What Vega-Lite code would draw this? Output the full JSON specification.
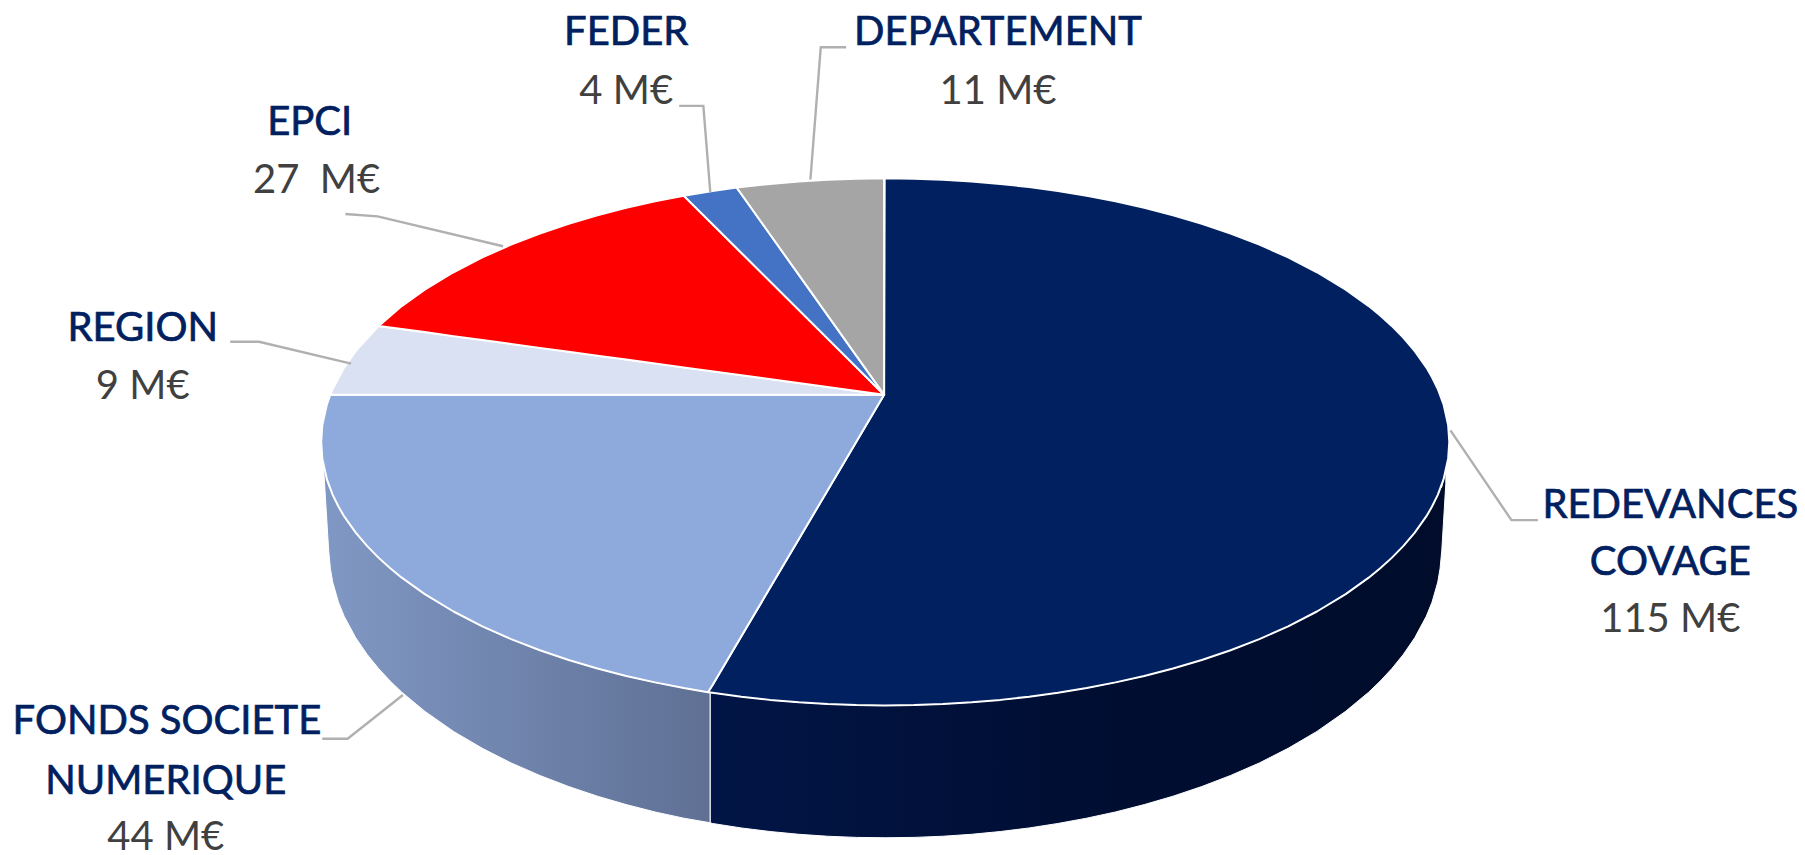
{"$schema":"https://vega.github.io/schema/vega-lite/v6.json","width":1805,"height":855,"padding":0,"autosize":{"type":"none"},"background":"white","config":{"view":{"stroke":null}},
"datasets":{
"wallLight":[{"x":281,"y":402,"y2":405},{"x":285.5,"y":422,"y2":478},{"x":287,"y":424.6,"y2":494},{"x":289,"y":430,"y2":505.8},{"x":294,"y":440.2,"y2":523.3},{"x":299,"y":448.8,"y2":535.6},{"x":309,"y":462.9,"y2":554.2},{"x":319,"y":474.6,"y2":568.8},{"x":329,"y":484.8,"y2":581.1},{"x":339,"y":493.8,"y2":591.9},{"x":349,"y":502,"y2":601.5},{"x":369,"y":516.3,"y2":618.1},{"x":394,"y":531.4,"y2":635.6},{"x":419,"y":544.3,"y2":650.3},{"x":444,"y":555.4,"y2":663},{"x":469,"y":565.1,"y2":673.9},{"x":494,"y":573.5,"y2":683.5},{"x":519,"y":580.9,"y2":691.9},{"x":544,"y":587.4,"y2":699.2},{"x":569,"y":593,"y2":705.6},{"x":594,"y":597.9,"y2":711},{"x":617,"y":601.7,"y2":715}],
"wallNavy":[{"x":617,"y":601.7,"y2":715},{"x":619,"y":602,"y2":715.6},{"x":644,"y":605.4,"y2":719.5},{"x":669,"y":608.2,"y2":722.6},{"x":694,"y":610.3,"y2":725},{"x":719,"y":611.8,"y2":726.7},{"x":744,"y":612.7,"y2":727.7},{"x":769,"y":613,"y2":728},{"x":794,"y":612.7,"y2":727.7},{"x":819,"y":611.8,"y2":726.7},{"x":844,"y":610.3,"y2":725},{"x":869,"y":608.2,"y2":722.6},{"x":894,"y":605.4,"y2":719.5},{"x":919,"y":602,"y2":715.6},{"x":944,"y":597.9,"y2":711},{"x":969,"y":593,"y2":705.6},{"x":994,"y":587.4,"y2":699.2},{"x":1019,"y":580.9,"y2":691.9},{"x":1044,"y":573.5,"y2":683.5},{"x":1069,"y":565.1,"y2":673.9},{"x":1094,"y":555.4,"y2":663},{"x":1119,"y":544.3,"y2":650.3},{"x":1144,"y":531.4,"y2":635.6},{"x":1169,"y":516.3,"y2":618.1},{"x":1189,"y":502,"y2":601.5},{"x":1199,"y":493.8,"y2":591.9},{"x":1209,"y":484.8,"y2":581.1},{"x":1219,"y":474.6,"y2":568.8},{"x":1229,"y":462.9,"y2":554.2},{"x":1239,"y":448.8,"y2":535.6},{"x":1244,"y":440.2,"y2":523.3},{"x":1249,"y":430,"y2":505.8},{"x":1251,"y":425,"y2":494},{"x":1252.5,"y":423,"y2":478},{"x":1256,"y":408,"y2":420}],
"faces":[
{"s":"REDEVANCES COVAGE","x":615,"y":601.5,"y2":601.5},{"s":"REDEVANCES COVAGE","x":619,"y":595.3,"y2":602},{"s":"REDEVANCES COVAGE","x":644,"y":552.9,"y2":605.4},{"s":"REDEVANCES COVAGE","x":669,"y":510.6,"y2":608.2},{"s":"REDEVANCES COVAGE","x":694,"y":468.3,"y2":610.3},{"s":"REDEVANCES COVAGE","x":719,"y":426,"y2":611.8},{"s":"REDEVANCES COVAGE","x":744,"y":383.6,"y2":612.7},{"s":"REDEVANCES COVAGE","x":768,"y":343,"y2":613},{"s":"REDEVANCES COVAGE","x":768.5,"y":155,"y2":613},{"s":"REDEVANCES COVAGE","x":794,"y":155.3,"y2":612.7},{"s":"REDEVANCES COVAGE","x":819,"y":156.2,"y2":611.8},{"s":"REDEVANCES COVAGE","x":844,"y":157.7,"y2":610.3},{"s":"REDEVANCES COVAGE","x":869,"y":159.8,"y2":608.2},{"s":"REDEVANCES COVAGE","x":894,"y":162.6,"y2":605.4},{"s":"REDEVANCES COVAGE","x":919,"y":166,"y2":602},{"s":"REDEVANCES COVAGE","x":944,"y":170.1,"y2":597.9},{"s":"REDEVANCES COVAGE","x":969,"y":175,"y2":593},{"s":"REDEVANCES COVAGE","x":994,"y":180.6,"y2":587.4},{"s":"REDEVANCES COVAGE","x":1019,"y":187.1,"y2":580.9},{"s":"REDEVANCES COVAGE","x":1044,"y":194.5,"y2":573.5},{"s":"REDEVANCES COVAGE","x":1069,"y":202.9,"y2":565.1},{"s":"REDEVANCES COVAGE","x":1094,"y":212.6,"y2":555.4},{"s":"REDEVANCES COVAGE","x":1119,"y":223.7,"y2":544.3},{"s":"REDEVANCES COVAGE","x":1144,"y":236.6,"y2":531.4},{"s":"REDEVANCES COVAGE","x":1169,"y":251.7,"y2":516.3},{"s":"REDEVANCES COVAGE","x":1189,"y":266,"y2":502},{"s":"REDEVANCES COVAGE","x":1199,"y":274.2,"y2":493.8},{"s":"REDEVANCES COVAGE","x":1209,"y":283.2,"y2":484.8},{"s":"REDEVANCES COVAGE","x":1219,"y":293.4,"y2":474.6},{"s":"REDEVANCES COVAGE","x":1229,"y":305.1,"y2":462.9},{"s":"REDEVANCES COVAGE","x":1239,"y":319.2,"y2":448.8},{"s":"REDEVANCES COVAGE","x":1244,"y":327.8,"y2":440.2},{"s":"REDEVANCES COVAGE","x":1249,"y":338,"y2":430},{"s":"REDEVANCES COVAGE","x":1254,"y":351.4,"y2":416.6},{"s":"REDEVANCES COVAGE","x":1258,"y":369.4,"y2":398.6},{"s":"REDEVANCES COVAGE","x":1259,"y":384,"y2":384},
{"s":"FONDS SOCIETE NUMERIQUE","x":279,"y":384,"y2":384},{"s":"FONDS SOCIETE NUMERIQUE","x":280,"y":369.4,"y2":398.6},{"s":"FONDS SOCIETE NUMERIQUE","x":284,"y":351.4,"y2":416.6},{"s":"FONDS SOCIETE NUMERIQUE","x":287,"y":343,"y2":424.6},{"s":"FONDS SOCIETE NUMERIQUE","x":289,"y":343,"y2":430},{"s":"FONDS SOCIETE NUMERIQUE","x":294,"y":343,"y2":440.2},{"s":"FONDS SOCIETE NUMERIQUE","x":299,"y":343,"y2":448.8},{"s":"FONDS SOCIETE NUMERIQUE","x":309,"y":343,"y2":462.9},{"s":"FONDS SOCIETE NUMERIQUE","x":319,"y":343,"y2":474.6},{"s":"FONDS SOCIETE NUMERIQUE","x":329,"y":343,"y2":484.8},{"s":"FONDS SOCIETE NUMERIQUE","x":339,"y":343,"y2":493.8},{"s":"FONDS SOCIETE NUMERIQUE","x":349,"y":343,"y2":502},{"s":"FONDS SOCIETE NUMERIQUE","x":369,"y":343,"y2":516.3},{"s":"FONDS SOCIETE NUMERIQUE","x":394,"y":343,"y2":531.4},{"s":"FONDS SOCIETE NUMERIQUE","x":419,"y":343,"y2":544.3},{"s":"FONDS SOCIETE NUMERIQUE","x":444,"y":343,"y2":555.4},{"s":"FONDS SOCIETE NUMERIQUE","x":469,"y":343,"y2":565.1},{"s":"FONDS SOCIETE NUMERIQUE","x":494,"y":343,"y2":573.5},{"s":"FONDS SOCIETE NUMERIQUE","x":519,"y":343,"y2":580.9},{"s":"FONDS SOCIETE NUMERIQUE","x":544,"y":343,"y2":587.4},{"s":"FONDS SOCIETE NUMERIQUE","x":569,"y":343,"y2":593},{"s":"FONDS SOCIETE NUMERIQUE","x":594,"y":343,"y2":597.9},{"s":"FONDS SOCIETE NUMERIQUE","x":615,"y":343,"y2":601.5},{"s":"FONDS SOCIETE NUMERIQUE","x":619,"y":343,"y2":595.3},{"s":"FONDS SOCIETE NUMERIQUE","x":644,"y":343,"y2":552.9},{"s":"FONDS SOCIETE NUMERIQUE","x":669,"y":343,"y2":510.6},{"s":"FONDS SOCIETE NUMERIQUE","x":694,"y":343,"y2":468.3},{"s":"FONDS SOCIETE NUMERIQUE","x":719,"y":343,"y2":426},{"s":"FONDS SOCIETE NUMERIQUE","x":744,"y":343,"y2":383.6},{"s":"FONDS SOCIETE NUMERIQUE","x":768,"y":343,"y2":343},
{"s":"REGION","x":287,"y":343,"y2":343},{"s":"REGION","x":289,"y":338,"y2":343},{"s":"REGION","x":299,"y":319.2,"y2":343},{"s":"REGION","x":309,"y":305.1,"y2":343},{"s":"REGION","x":329,"y":283.2,"y2":343},{"s":"REGION","x":768,"y":343,"y2":343},
{"s":"EPCI","x":329,"y":283.2,"y2":283.2},{"s":"EPCI","x":349,"y":266,"y2":285.9},{"s":"EPCI","x":369,"y":251.7,"y2":288.6},{"s":"EPCI","x":394,"y":236.6,"y2":292.1},{"s":"EPCI","x":419,"y":223.7,"y2":295.5},{"s":"EPCI","x":444,"y":212.6,"y2":298.9},{"s":"EPCI","x":469,"y":202.9,"y2":302.3},{"s":"EPCI","x":494,"y":194.5,"y2":305.7},{"s":"EPCI","x":519,"y":187.1,"y2":309.1},{"s":"EPCI","x":544,"y":180.6,"y2":312.5},{"s":"EPCI","x":569,"y":175,"y2":315.9},{"s":"EPCI","x":594,"y":170.1,"y2":319.3},{"s":"EPCI","x":768,"y":343,"y2":343},
{"s":"FEDER","x":594,"y":170.1,"y2":170.1},{"s":"FEDER","x":619,"y":166,"y2":194.9},{"s":"FEDER","x":640,"y":163,"y2":215.7},{"s":"FEDER","x":768,"y":343,"y2":343},
{"s":"DEPARTEMENT","x":640,"y":163,"y2":163},{"s":"DEPARTEMENT","x":644,"y":162.6,"y2":168.6},{"s":"DEPARTEMENT","x":669,"y":159.8,"y2":203.8},{"s":"DEPARTEMENT","x":694,"y":157.7,"y2":238.9},{"s":"DEPARTEMENT","x":719,"y":156.2,"y2":274.1},{"s":"DEPARTEMENT","x":744,"y":155.3,"y2":309.2},{"s":"DEPARTEMENT","x":768,"y":155,"y2":343}],
"leaders":[
{"k":"REDEVANCES","i":1,"x":1260,"y":374},{"k":"REDEVANCES","i":2,"x":1313,"y":452},{"k":"REDEVANCES","i":3,"x":1336,"y":452},
{"k":"FONDS","i":1,"x":350,"y":604},{"k":"FONDS","i":2,"x":302,"y":642},{"k":"FONDS","i":3,"x":280,"y":642},
{"k":"REGION","i":1,"x":305,"y":316},{"k":"REGION","i":2,"x":225,"y":297},{"k":"REGION","i":3,"x":200,"y":297},
{"k":"EPCI","i":1,"x":437,"y":214},{"k":"EPCI","i":2,"x":328,"y":188},{"k":"EPCI","i":3,"x":300,"y":186},
{"k":"FEDER","i":1,"x":617,"y":167},{"k":"FEDER","i":2,"x":611,"y":92},{"k":"FEDER","i":3,"x":590,"y":92},
{"k":"DEPT","i":1,"x":704,"y":156},{"k":"DEPT","i":2,"x":713,"y":41},{"k":"DEPT","i":3,"x":735,"y":41}],
"names":[
{"t":"REDEVANCES","x":1451,"y":450},{"t":"COVAGE","x":1451,"y":499.5},
{"t":"FONDS SOCIETE","x":145,"y":638},{"t":"NUMERIQUE","x":144,"y":690},
{"t":"REGION","x":124,"y":296},{"t":"EPCI","x":269,"y":117},{"t":"FEDER","x":544,"y":39},{"t":"DEPARTEMENT","x":867,"y":39}],
"amounts":[
{"t":"115 M€","x":1451,"y":549},{"t":"44 M€","x":144,"y":739},{"t":"9 M€","x":124,"y":347},{"t":"27 \u00a0M€","x":275,"y":168},{"t":"4 M€","x":544,"y":90},{"t":"11 M€","x":867,"y":90}]},
"encoding":{"x":{"field":"x","type":"quantitative","scale":{"domain":[0,1568],"nice":false,"zero":false},"axis":null},"y":{"field":"y","type":"quantitative","scale":{"domain":[743,0],"nice":false,"zero":false},"axis":null}},
"layer":[
{"data":{"name":"wallLight"},"mark":{"type":"area","stroke":"#ffffff","strokeWidth":1,"color":{"gradient":"linear","x1":0,"y1":0,"x2":1,"y2":0,"stops":[{"offset":0,"color":"#8098c4"},{"offset":1,"color":"#5f7094"}]}},"encoding":{"y2":{"field":"y2"}}},
{"data":{"name":"wallNavy"},"mark":{"type":"area","stroke":"#ffffff","strokeWidth":1,"color":{"gradient":"linear","x1":0,"y1":0,"x2":1,"y2":0,"stops":[{"offset":0,"color":"#011546"},{"offset":0.5,"color":"#000e33"},{"offset":1,"color":"#000c2a"}]}},"encoding":{"y2":{"field":"y2"}}},
{"data":{"name":"faces"},"mark":{"type":"area","stroke":"#ffffff","strokeWidth":2,"strokeJoin":"round"},"encoding":{"y2":{"field":"y2"},"color":{"field":"s","type":"nominal","legend":null,"scale":{"domain":["REDEVANCES COVAGE","FONDS SOCIETE NUMERIQUE","REGION","EPCI","FEDER","DEPARTEMENT"],"range":["#002060","#8EA9DB","#D9E1F2","#FF0000","#4472C4","#A5A5A5"]}}}},
{"data":{"name":"leaders"},"mark":{"type":"line","color":"#b0b0b0","strokeWidth":2.4},"encoding":{"detail":{"field":"k"},"order":{"field":"i"}}},
{"data":{"name":"names"},"mark":{"type":"text","font":"Lato","fontSize":40,"align":"center","baseline":"alphabetic","fill":"#002060","stroke":"#002060","strokeWidth":0.7},"encoding":{"text":{"field":"t"}}},
{"data":{"name":"amounts"},"mark":{"type":"text","font":"Lato","fontSize":40,"align":"center","baseline":"alphabetic","fill":"#404040"},"encoding":{"text":{"field":"t"}}}
]}
